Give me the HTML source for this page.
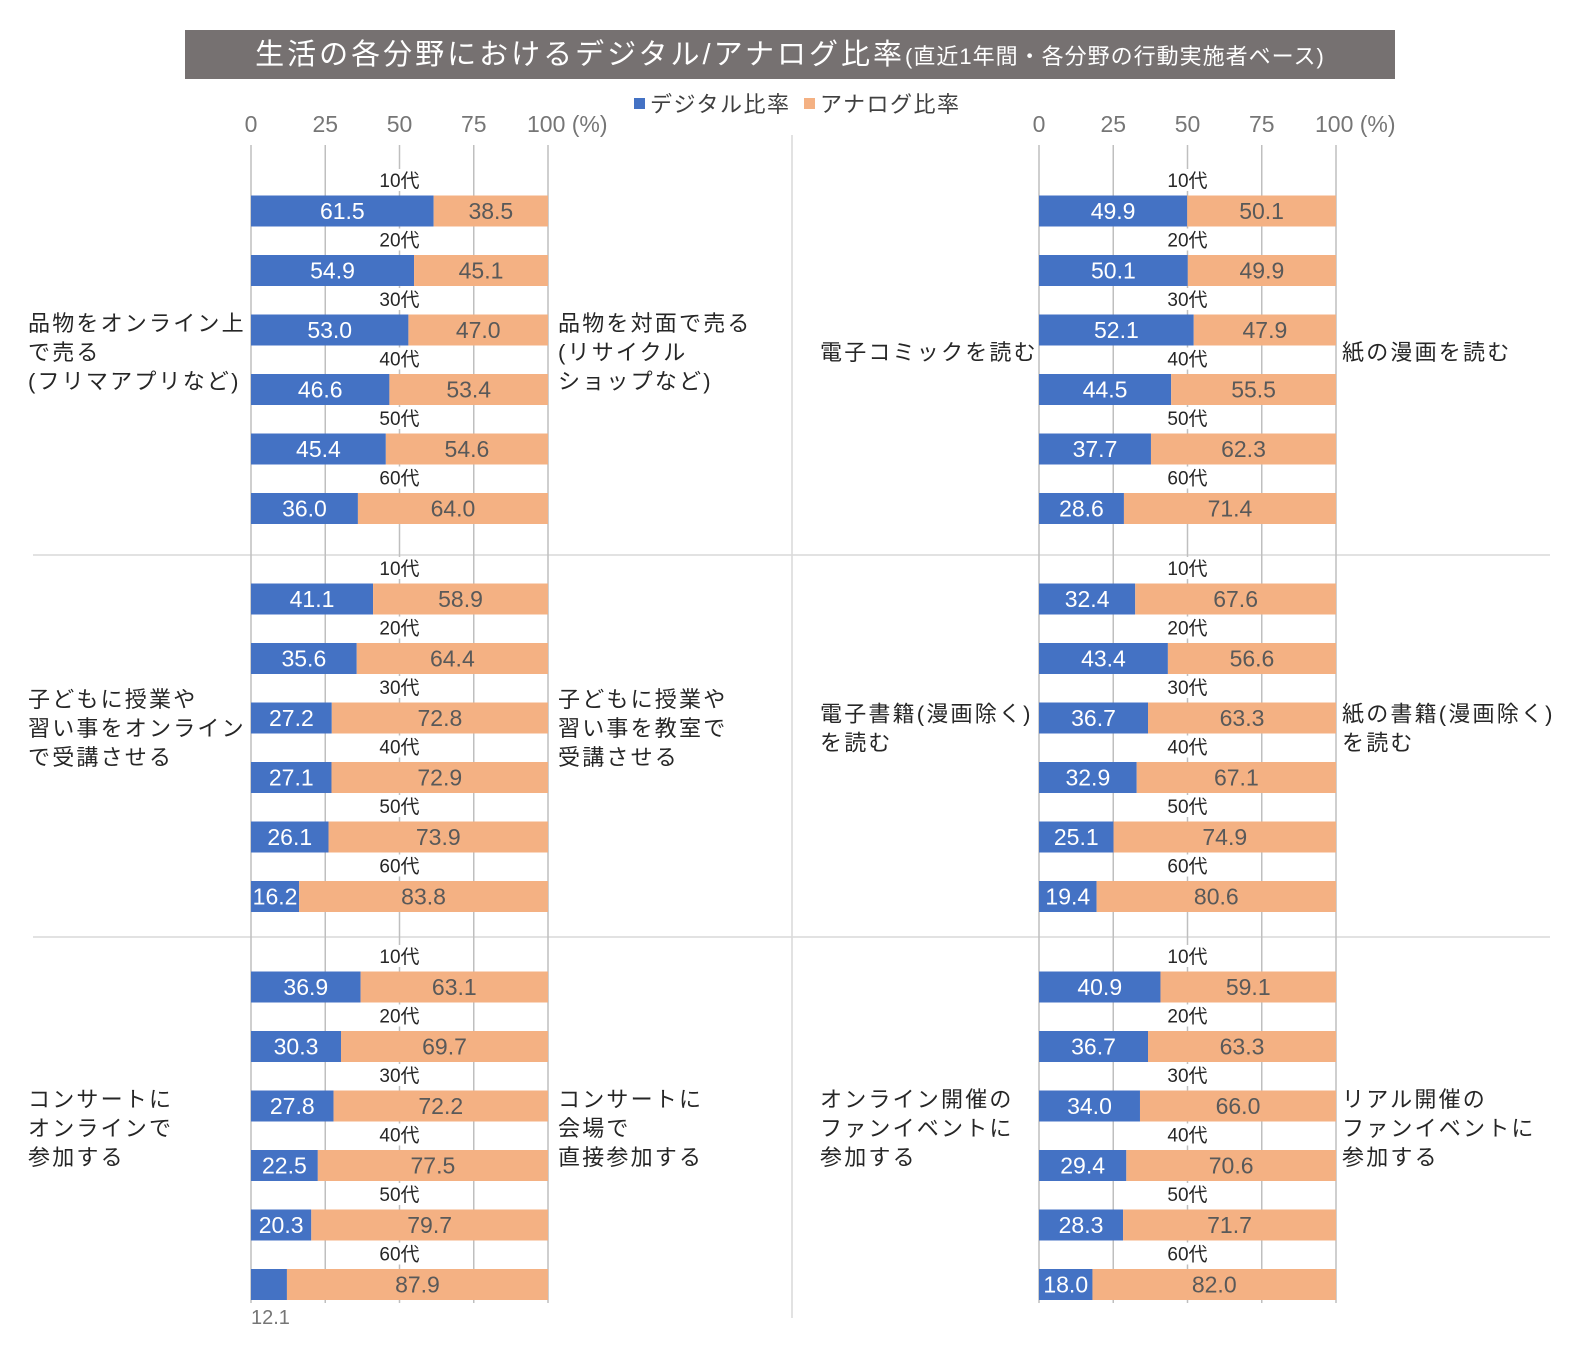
<!DOCTYPE html>
<html><head><meta charset="utf-8"><style>
body{margin:0;background:#fff;}
svg{display:block;font-family:"Liberation Sans","Noto Sans CJK JP",sans-serif;}
</style></head><body>
<svg id="c" width="1570" height="1350" viewBox="0 0 1570 1350" xmlns="http://www.w3.org/2000/svg">
<rect x="185" y="30" width="1210" height="49" fill="#767171"/>
<text x="790" y="64" text-anchor="middle" fill="#fff" font-size="29" letter-spacing="3">生活の各分野におけるデジタル/アナログ比率<tspan font-size="22" letter-spacing="1">(直近1年間・各分野の行動実施者ベース)</tspan></text>
<g>
<rect x="634" y="98" width="11" height="11" fill="#4472C4"/>
<text x="650" y="112" font-size="22" fill="#404040" letter-spacing="1.5">デジタル比率</text>
<rect x="804" y="98" width="11" height="11" fill="#F4B183"/>
<text x="820" y="112" font-size="22" fill="#404040" letter-spacing="1.5">アナログ比率</text>
</g>
<line x1="33" y1="555" x2="1550" y2="555" stroke="#d9d9d9" stroke-width="1.5"/>
<line x1="33" y1="937" x2="1550" y2="937" stroke="#d9d9d9" stroke-width="1.5"/>
<line x1="792" y1="135" x2="792" y2="1318" stroke="#d9d9d9" stroke-width="1.5"/>
<g id="plots"></g>
</svg>
<script>
const ages = ["10代","20代","30代","40代","50代","60代"];
const ticks = [0,25,50,75,100];
const digitalL1 = [61.5,54.9,53.0,46.6,45.4,36.0];
const digitalL2 = [41.1,35.6,27.2,27.1,26.1,16.2];
const digitalL3 = [36.9,30.3,27.8,22.5,20.3,12.1];
const digitalR1 = [49.9,50.1,52.1,44.5,37.7,28.6];
const digitalR2 = [32.4,43.4,36.7,32.9,25.1,19.4];
const digitalR3 = [40.9,36.7,34.0,29.4,28.3,18.0];
const labelsL = [["品物をオンライン上","で売る","(フリマアプリなど)"],["子どもに授業や","習い事をオンライン","で受講させる"],["コンサートに","オンラインで","参加する"]];
const labelsLR = [["品物を対面で売る","(リサイクル","ショップなど)"],["子どもに授業や","習い事を教室で","受講させる"],["コンサートに","会場で","直接参加する"]];
const labelsRL = [["電子コミックを読む"],["電子書籍(漫画除く)","を読む"],["オンライン開催の","ファンイベントに","参加する"]];
const labelsRR = [["紙の漫画を読む"],["紙の書籍(漫画除く)","を読む"],["リアル開催の","ファンイベントに","参加する"]];

const NS="http://www.w3.org/2000/svg";
const g=document.getElementById('plots');
function mk(t,a,txt){const e=document.createElementNS(NS,t);for(const k in a)e.setAttribute(k,a[k]);if(txt!=null)e.textContent=txt;g.appendChild(e);return e;}
const panelTop=[211,599,987];
const labelShift=[0,-12,0];
const step=59.5, bh=31;
function xs(x0,v){return x0+v*2.97;}
function drawCol(x0,data,leftLabels,rightLabels,lx,rx){
  ticks.forEach(t=>{
    const l=mk('line',{x1:xs(x0,t),y1:145,x2:xs(x0,t),y2:1303,stroke:'#bfbfbf','stroke-width':1.5});
    
    
    const tx=mk('text',{x:xs(x0,t),y:132,'text-anchor':'middle','font-size':23,fill:'#767676'},t===100?'100 (%)':String(t));
    
    
    if(t===100){tx.setAttribute('text-anchor','start');tx.setAttribute('x',xs(x0,t)-21);}
  });
  data.forEach((arr,p)=>{
    arr.forEach((d,i)=>{
      const cy=panelTop[p]+i*step;
      const a=100-d;
      const lb=mk('rect',{x:xs(x0,50)-24,y:cy-42,width:48,height:22,fill:'#fff'});
      
      
      const at=mk('text',{x:xs(x0,50),y:cy-24,'text-anchor':'middle','font-size':19,fill:'#262626'},ages[i]);
      
      
      const b1=mk('rect',{x:xs(x0,0),y:cy-bh/2,width:xs(x0,d)-xs(x0,0),height:bh,fill:'#4472C4'});
      
      
      const b2=mk('rect',{x:xs(x0,d),y:cy-bh/2,width:xs(x0,100)-xs(x0,d),height:bh,fill:'#F4B183'});
      
      
      let v1;
      if(d<14){v1=mk('text',{x:xs(x0,0),y:cy+bh/2+24,'font-size':20,fill:'#767676'},d.toFixed(1));}
      else v1=mk('text',{x:xs(x0,d/2),y:cy+8,'text-anchor':'middle','font-size':23,fill:'#fff'},d.toFixed(1));
      
      
      const v2=mk('text',{x:xs(x0,d+a/2),y:cy+8,'text-anchor':'middle','font-size':23,fill:'#595959'},a.toFixed(1));
      
      
    });
    const mid=panelTop[p]+2.5*step+labelShift[p];
    [[leftLabels[p],lx],[rightLabels[p],rx]].forEach(([lines,x])=>{
      const n=lines.length;
      lines.forEach((s,k)=>{
        const t=mk('text',{x:x,y:mid+(k-(n-1)/2)*29,'font-size':22,fill:'#262626','letter-spacing':2.2},s);
        
        
      });
    });
  });
}
drawCol(251,[digitalL1,digitalL2,digitalL3],labelsL,labelsLR,28,558);
drawCol(1039,[digitalR1,digitalR2,digitalR3],labelsRL,labelsRR,820,1342);
</script>
</body></html>
